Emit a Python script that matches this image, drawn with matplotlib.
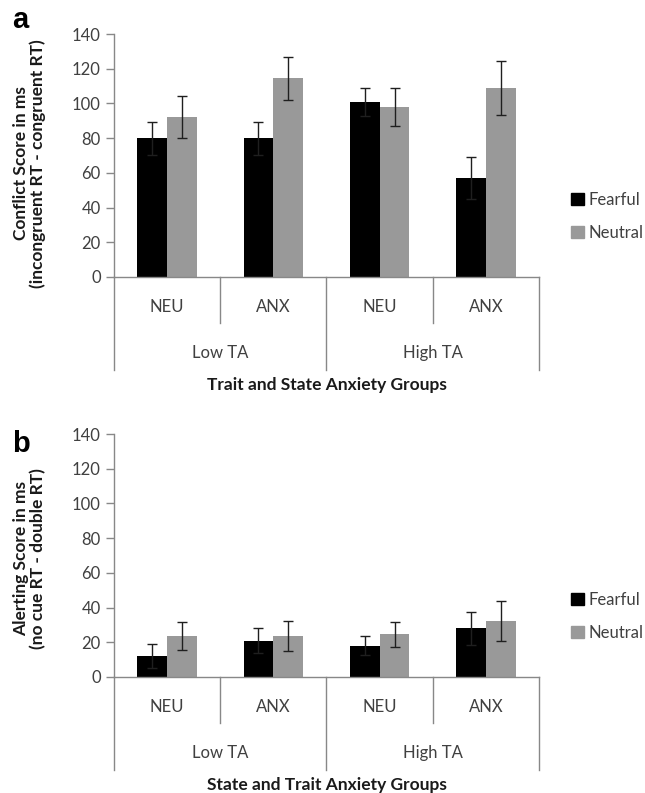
import numpy as np
import matplotlib.pyplot as plt
import matplotlib.transforms as mtransforms
from matplotlib.patches import Patch

plt.rcParams['font.family'] = ['Lato', 'DejaVu Sans']

sub_labels = ["NEU", "ANX", "NEU", "ANX"]
group_labels = ["Low TA", "High TA"]

# panel a - conflict
conflict_fearful = [80, 80, 101, 57]
conflict_fearful_err = [9.5, 9.5, 8, 12]
conflict_neutral = [92, 114.5, 98, 109]
conflict_neutral_err = [12, 12.5, 11, 15.5]

# panel b - alerting
alert_fearful = [12, 21, 18, 28]
alert_fearful_err = [7, 7, 5.5, 9.5]
alert_neutral = [23.5, 23.5, 24.5, 32.5]
alert_neutral_err = [8, 8.5, 7, 11.5]

BLACK = '#000000'
GRAY = '#999999'
AXC = '#888888'
TXT = '#404040'
AX_H_PX = 242.0
AX_W_PX = 425.0


def panel(ax, fear, fear_err, neut, neut_err, ylabel, xlabel, letter, letter_y, ylab_y):
    x = np.arange(len(sub_labels))
    w = 0.28
    ekw = dict(ecolor='#1f1f1f', elinewidth=1.0, capsize=3.5, capthick=1.0)
    ax.bar(x - w / 2, fear, w, color=BLACK, yerr=fear_err, error_kw=ekw, label='Fearful')
    ax.bar(x + w / 2, neut, w, color=GRAY, yerr=neut_err, error_kw=ekw, label='Neutral')
    ax.set_xlim(-0.5, 3.5)
    ax.set_ylim(0, 140)
    ax.set_yticks(range(0, 141, 20))
    ax.tick_params(axis='y', colors=AXC, labelcolor=TXT, labelsize=12, length=6, width=1)
    ax.set_xticks([])
    for s in ['top', 'right']:
        ax.spines[s].set_visible(False)
    for s in ['left', 'bottom']:
        ax.spines[s].set_color(AXC)
        ax.spines[s].set_linewidth(1)

    tr = mtransforms.blended_transform_factory(ax.transData, ax.transAxes)
    px = 1 / AX_H_PX
    for i, lab in enumerate(sub_labels):
        ax.text(i, -30 * px, lab, transform=tr, ha='center', va='center',
                fontsize=12, color=TXT)
    for xs in [0.5, 2.5]:
        ax.plot([xs, xs], [0, -46 * px], transform=tr, color=AXC, lw=1, clip_on=False)
    for xs in [-0.5, 1.5, 3.5]:
        ax.plot([xs, xs], [0, -93 * px], transform=tr, color=AXC, lw=1, clip_on=False)
    for g, lab in enumerate(group_labels):
        ax.text(0.5 + 2 * g, -76 * px, lab, transform=tr, ha='center', va='center',
                fontsize=12, color=TXT)
    ax.text(1.5, -108 * px, xlabel, transform=tr, ha='center', va='center',
            fontsize=12.5, fontweight='bold', color='#1a1a1a')

    ax.text(-(114 - 29.5) / AX_W_PX, ylab_y, ylabel, transform=ax.transAxes,
            ha='center', va='center', rotation=90, fontsize=12.5, fontweight='bold',
            color='#1a1a1a', linespacing=1.05)
    ax.text(-(114 - 12) / AX_W_PX, letter_y, letter, transform=ax.transAxes,
            ha='left', va='baseline', fontsize=21, fontweight='bold',
            family='Liberation Sans', color='black')

    handles = [Patch(color=BLACK), Patch(color=GRAY)]
    leg = ax.legend(handles, ['Fearful', 'Neutral'], loc='center left',
                    bbox_to_anchor=(1.06, 0.25), frameon=False, fontsize=12,
                    handlelength=0.75, handleheight=0.75, handletextpad=0.3,
                    labelspacing=1.0, borderaxespad=0)
    for t in leg.get_texts():
        t.set_color(TXT)


fig = plt.figure(figsize=(6.45, 7.93), dpi=100)
ax1 = fig.add_axes([0.1767, 0.6507, 0.659, 0.3064])
ax2 = fig.add_axes([0.1767, 0.1463, 0.659, 0.3064])

panel(ax1, conflict_fearful, conflict_fearful_err, conflict_neutral, conflict_neutral_err,
      "Conflict Score in ms\n(incongruent RT - congruent RT)",
      "Trait and State Anxiety Groups", "a", 1 + 6 / AX_H_PX, 0.5 - 8 / AX_H_PX)
panel(ax2, alert_fearful, alert_fearful_err, alert_neutral, alert_neutral_err,
      "Alerting Score in ms\n(no cue RT - double RT)",
      "State and Trait Anxiety Groups", "b", 1 - 18 / AX_H_PX, 0.5 - 3 / AX_H_PX)

fig.savefig("out.png", dpi=100)
